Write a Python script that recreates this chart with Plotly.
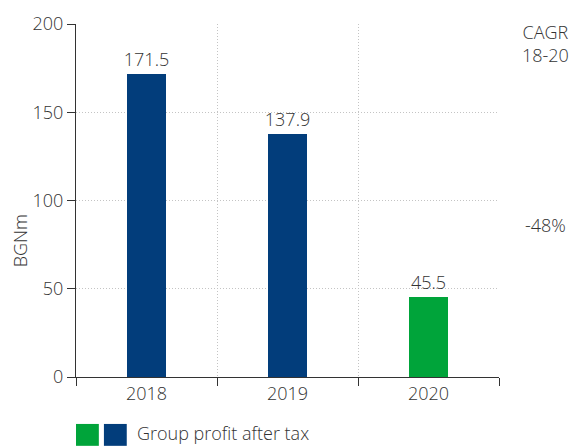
import plotly.graph_objects as go

# chart data
years = ["2018", "2019", "2020"]
profit = [171.5, 137.9, 45.5]
profit_labels = ["171.5", "137.9", "45.5"]
cagr_label = "-48%"
legend_label = "Group profit after tax"

BLUE = "#023d7b"
GREEN = "#00a43a"
TXT = "#333333"
GRID = "#c4c4c4"
FONT = "Open Sans"
FS = 18

bar_colors = [BLUE, BLUE, GREEN]
txtfont = dict(size=FS, color=TXT, family=FONT, weight=300)

fig = go.Figure()
fig.add_trace(go.Bar(
    x=years,
    y=profit,
    text=profit_labels,
    textposition="outside",
    constraintext="none",
    textfont=txtfont,
    marker=dict(color=bar_colors, line=dict(width=0)),
    width=0.27,
    cliponaxis=False,
    showlegend=False,
    hoverinfo="skip",
))

fig.update_layout(
    width=573, height=446,
    margin=dict(l=76, r=74, t=24, b=69),
    paper_bgcolor="white",
    plot_bgcolor="white",
    font=txtfont,
    bargap=0,
)

fig.update_xaxes(
    type="category",
    tickson="boundaries",
    ticks="outside", ticklen=8, tickcolor=TXT, tickwidth=1,
    showline=True, linecolor=TXT, linewidth=1,
    showgrid=True, gridcolor=GRID, griddash="1px,2px", gridwidth=1,
    tickfont=txtfont,
)
fig.update_yaxes(
    range=[0, 200],
    tickvals=[0, 50, 100, 150, 200],
    ticks="outside", ticklen=8, tickcolor=TXT, tickwidth=1,
    showline=True, linecolor=TXT, linewidth=1,
    showgrid=True, gridcolor=GRID, griddash="1px,2px", gridwidth=1,
    zeroline=False,
    tickfont=txtfont,
)

# y axis title (sits lower than centre in the original)
fig.add_annotation(
    text="BGNm", textangle=-90, xref="paper", yref="paper",
    x=-0.132, y=0.385, xanchor="center", yanchor="middle",
    showarrow=False, font=txtfont,
)

# CAGR column on the right
fig.add_annotation(
    text="CAGR<br>18-20", xref="paper", yref="paper",
    x=1.111, y=1.017, xanchor="center", yanchor="top",
    showarrow=False, align="center",
    font=txtfont,
)
fig.add_annotation(
    text=cagr_label, xref="paper", yref="y",
    x=1.111, y=86, xanchor="center", yanchor="middle",
    showarrow=False, font=txtfont,
)

# legend: two swatches + label
fig.add_shape(type="rect", xref="paper", yref="paper",
              x0=0.0, x1=0.054, y0=-0.133, y1=-0.195,
              fillcolor=GREEN, line=dict(width=0))
fig.add_shape(type="rect", xref="paper", yref="paper",
              x0=0.066, x1=0.12, y0=-0.133, y1=-0.195,
              fillcolor=BLUE, line=dict(width=0))
fig.add_annotation(
    text=legend_label, xref="paper", yref="paper",
    x=0.142, y=-0.195, xanchor="left", yanchor="bottom",
    borderpad=0,
    showarrow=False, font=txtfont,
)

fig.write_html("out.html", config={"displayModeBar": False},
               post_script="document.body.style.margin='0';")
